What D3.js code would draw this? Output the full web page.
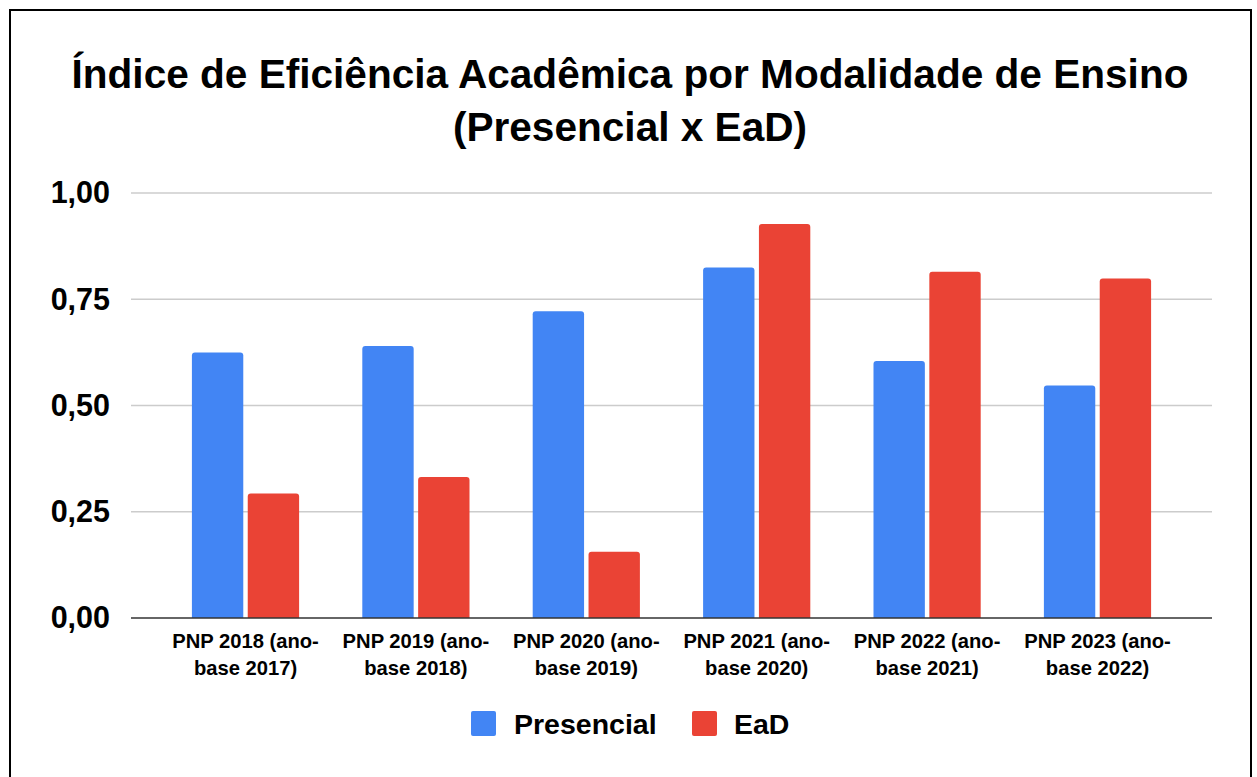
<!DOCTYPE html>
<html>
<head>
<meta charset="utf-8">
<script src="https://cdn.jsdelivr.net/npm/d3@7"></script>
<style>
  html, body { margin: 0; padding: 0; background: #fff; }
  svg { display: block; font-family: 'Liberation Sans', Arial, sans-serif; }
</style>
</head>
<body>
<svg id="chart" width="1257" height="777"></svg>
<script>
const categories= [
  ['PNP 2018 (ano-', 'base 2017)'],
  ['PNP 2019 (ano-', 'base 2018)'],
  ['PNP 2020 (ano-', 'base 2019)'],
  ['PNP 2021 (ano-', 'base 2020)'],
  ['PNP 2022 (ano-', 'base 2021)'],
  ['PNP 2023 (ano-', 'base 2022)']
];
const presencial= [0.625, 0.640, 0.722, 0.825, 0.605, 0.547];
const ead= [0.293, 0.332, 0.156, 0.927, 0.815, 0.799];
const seriesNames= ['Presencial', 'EaD'];
const yTicks= [0, 0.25, 0.5, 0.75, 1];
const titleLines= ['Índice de Eficiência Acadêmica por Modalidade de Ensino', '(Presencial x EaD)'];

const colors= ['#4285f4', '#ea4335'];
const svg= d3.select('#chart');

// outer frame
svg.append('rect')
  .attr('x', 10).attr('y', 10)
  .attr('width', 1241).attr('height', 790)
  .attr('fill', '#fff')
  .attr('stroke', '#000')
  .attr('stroke-width', 2);

svg.append('text')
  .attr('x', 630).attr('y', 88)
  .attr('text-anchor', 'middle')
  .style('font-size', '40.6px').style('font-weight', 'bold')
  .selectAll('tspan').data(titleLines).join('tspan')
  .attr('x', 630)
  .attr('dy', (d, i) => i ? 53 : 0)
  .text(d => d);

const left= 131, right= 1212;
const y= d3.scaleLinear().domain([0, 1]).range([618, 193]);
const x0= d3.scaleBand()
  .domain(d3.range(categories.length))
  .range([left, right])
  .paddingInner(0)
  .paddingOuter(0.172);
const x1= d3.scaleBand()
  .domain([0, 1])
  .range([x0.bandwidth()/2-53.6, x0.bandwidth()/2+53.6])
  .paddingInner(0.08);

// gridlines
svg.append('g')
  .selectAll('line').data(yTicks.filter(t => t > 0)).join('line')
  .attr('x1', left).attr('x2', right)
  .attr('y1', d => y(d)).attr('y2', d => y(d))
  .attr('stroke', '#cccccc')
  .attr('stroke-width', 1.5);

const yAxis= svg.append('g')
  .attr('transform', `translate(${left},0)`)
  .call(d3.axisLeft(y).tickValues(yTicks).tickSize(0).tickPadding(21)
    .tickFormat(d => d3.format('.2f')(d).replace('.', ',')));
yAxis.select('.domain').remove();
yAxis.selectAll('text')
  .attr('fill', '#000')
  .style('font-size', '30.5px').style('font-weight', 'bold')
  .style('font-family', "'Liberation Sans', Arial, sans-serif");

const barPath= (bx, by, bw, bh, r) => {
  r= Math.min(r, bh);
  return `M${bx},${by+bh}V${by+r}Q${bx},${by} ${bx+r},${by}H${bx+bw-r}Q${bx+bw},${by} ${bx+bw},${by+r}V${by+bh}Z`;
};

const rows= categories.map((c, i) => [presencial[i], ead[i]]);
const groups= svg.append('g').selectAll('g').data(rows).join('g')
  .attr('transform', (d, i) => `translate(${x0(i)},0)`);
groups.selectAll('path').data(d => d).join('path')
  .attr('d', (v, j) => barPath(x1(j), y(v), x1.bandwidth(), y(0)-y(v), 3))
  .attr('fill', (v, j) => colors[j]);

// baseline
svg.append('line')
  .attr('x1', left).attr('x2', right)
  .attr('y1', y(0)).attr('y2', y(0))
  .attr('stroke', '#333')
  .attr('stroke-width', 1.5);

const xAxis= svg.append('g')
  .attr('transform', `translate(0,${y(0)})`)
  .call(d3.axisBottom(x0).tickSize(0).tickFormat(() => ''));
xAxis.select('.domain').remove();
xAxis.selectAll('.tick text').remove();
xAxis.selectAll('.tick').append('text')
  .attr('text-anchor', 'middle')
  .attr('fill', '#000')
  .style('font-size', '20.2px').style('font-weight', 'bold')
  .selectAll('tspan').data(i => categories[i]).join('tspan')
  .attr('x', 0)
  .attr('y', (d, k) => 30+k*27)
  .text(d => d);

// legend
const legendItems= [{ name: seriesNames[0], sx: 471, tx: 514 }, { name: seriesNames[1], sx: 692, tx: 734 }];
const legend= svg.append('g').selectAll('g').data(legendItems).join('g');
legend.append('rect')
  .attr('x', d => d.sx).attr('y', 711)
  .attr('width', 25).attr('height', 25)
  .attr('rx', 2)
  .attr('fill', (d, i) => colors[i]);
legend.append('text')
  .attr('x', d => d.tx).attr('y', 734)
  .style('font-size', '28.5px').style('font-weight', 'bold')
  .text(d => d.name);
</script>
</body>
</html>
